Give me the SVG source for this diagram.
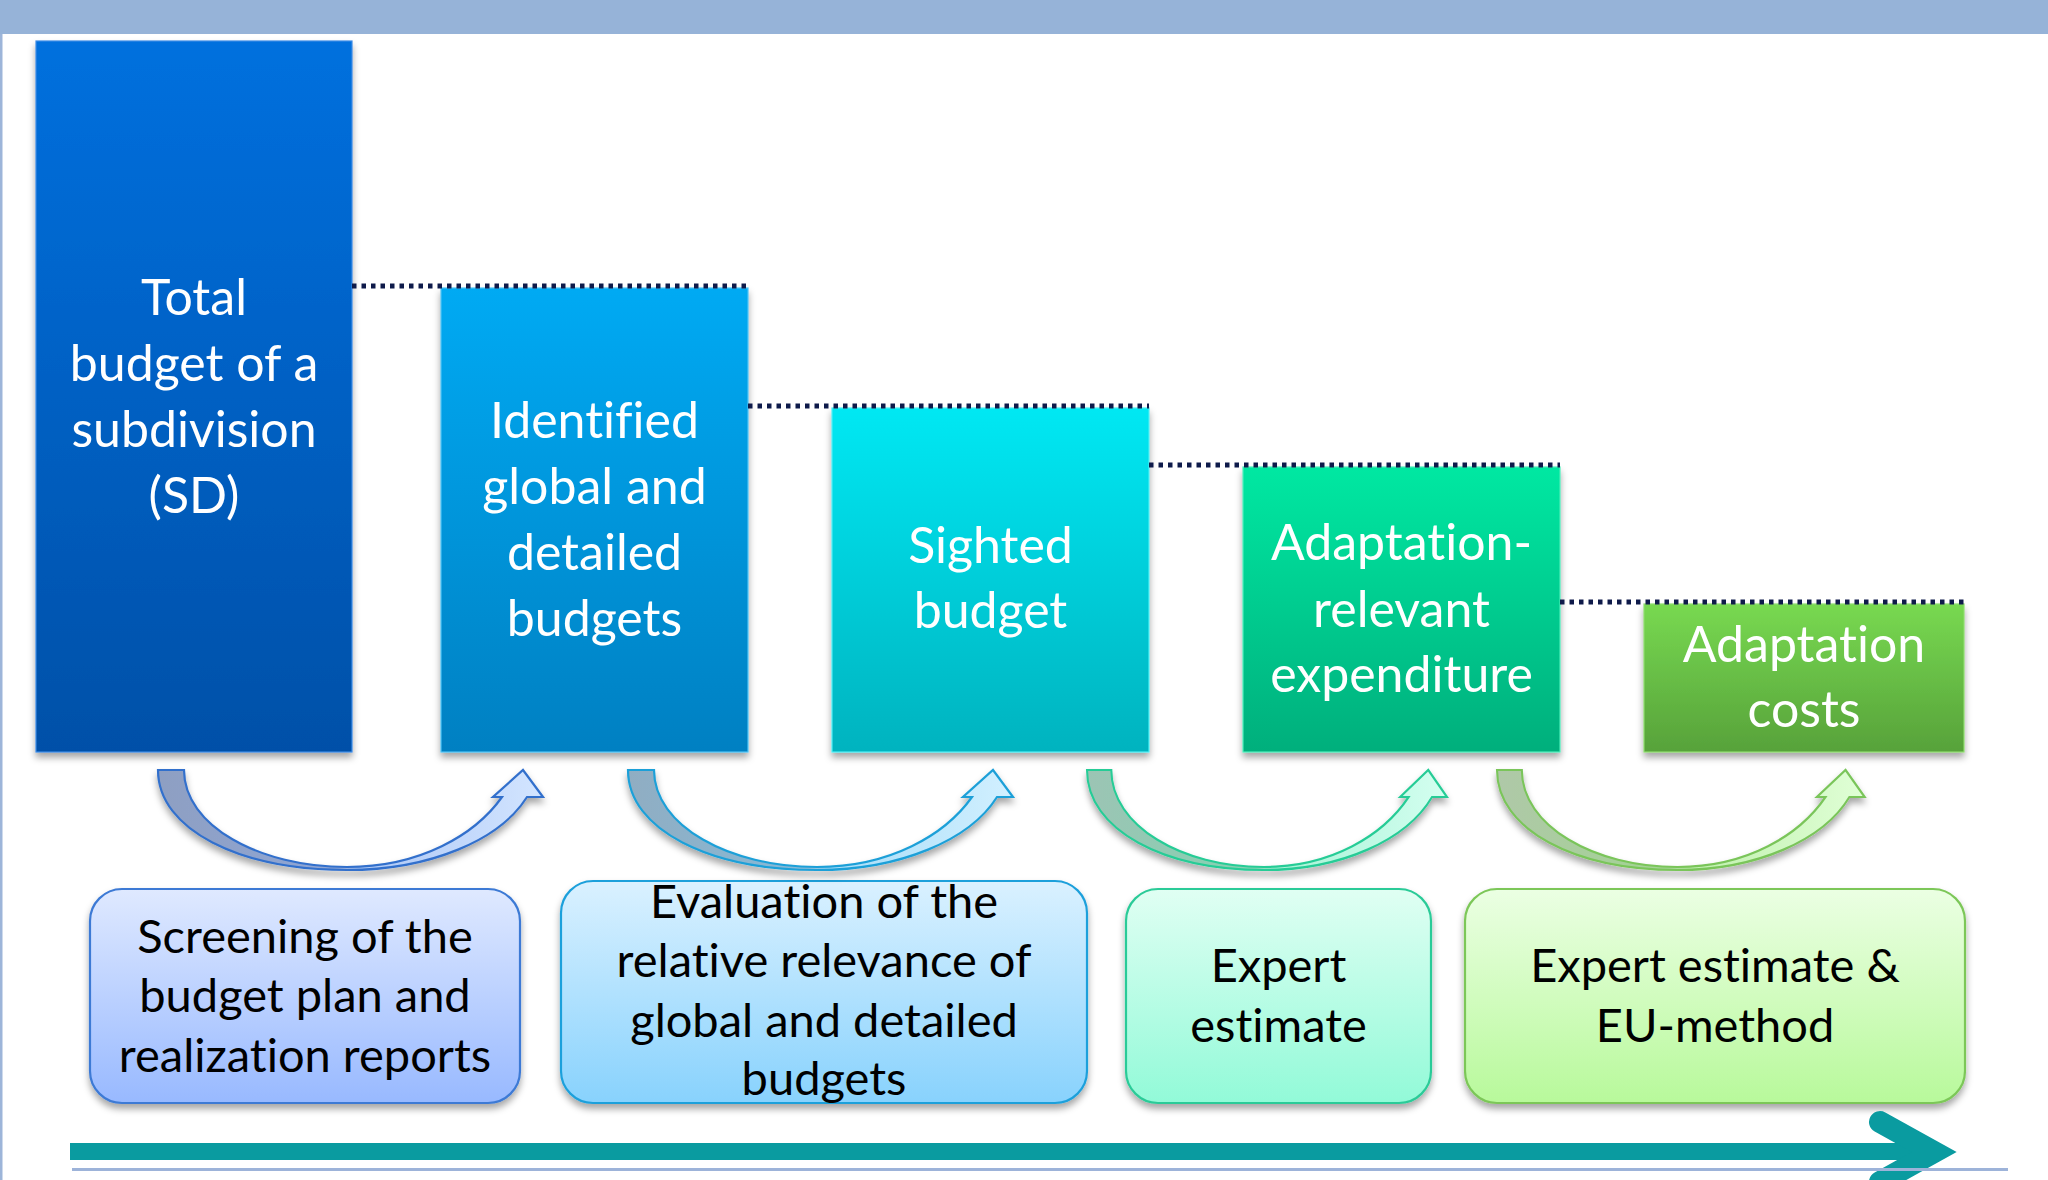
<svg xmlns="http://www.w3.org/2000/svg" width="2048" height="1180" viewBox="0 0 2048 1180">
<style>
.wt{font-family:Lato,"Liberation Sans",sans-serif;font-size:50px;fill:#ffffff;text-anchor:middle;font-variant-ligatures:none}
.bt{font-family:Lato,"Liberation Sans",sans-serif;font-size:47px;fill:#000000;text-anchor:middle;font-variant-ligatures:none}
.dots{stroke:#0E1A4A;stroke-width:5;stroke-dasharray:4.5 5;fill:none}
.arr{stroke-width:2.2;vector-effect:non-scaling-stroke}
</style>
<defs>
<filter id="sh" x="-10%" y="-10%" width="120%" height="130%">
<feDropShadow dx="0" dy="5" stdDeviation="3.5" flood-color="#000" flood-opacity="0.35"/>
</filter>
<linearGradient id="g1" x1="0" y1="0" x2="0" y2="1"><stop offset="0" stop-color="#0070DE"/><stop offset="1" stop-color="#0050A8"/></linearGradient>
<linearGradient id="g2" x1="0" y1="0" x2="0" y2="1"><stop offset="0" stop-color="#00AAF3"/><stop offset="1" stop-color="#0080C2"/></linearGradient>
<linearGradient id="g3" x1="0" y1="0" x2="0" y2="1"><stop offset="0" stop-color="#00E8F3"/><stop offset="1" stop-color="#00B3BF"/></linearGradient>
<linearGradient id="g4" x1="0" y1="0" x2="0" y2="1"><stop offset="0" stop-color="#00E8A2"/><stop offset="1" stop-color="#00AF7C"/></linearGradient>
<linearGradient id="g5" x1="0" y1="0" x2="0" y2="1"><stop offset="0" stop-color="#78D951"/><stop offset="1" stop-color="#57A23A"/></linearGradient>
<linearGradient id="b1" x1="0" y1="0" x2="0" y2="1"><stop offset="0" stop-color="#DFE9FF"/><stop offset="1" stop-color="#98B9FF"/></linearGradient>
<linearGradient id="b2" x1="0" y1="0" x2="0" y2="1"><stop offset="0" stop-color="#DAF1FF"/><stop offset="1" stop-color="#88D2FD"/></linearGradient>
<linearGradient id="b3" x1="0" y1="0" x2="0" y2="1"><stop offset="0" stop-color="#E0FFF3"/><stop offset="1" stop-color="#92FAD8"/></linearGradient>
<linearGradient id="b4" x1="0" y1="0" x2="0" y2="1"><stop offset="0" stop-color="#EBFFE3"/><stop offset="1" stop-color="#B8F99B"/></linearGradient>
<linearGradient id="a1" x1="0" y1="0" x2="1" y2="0"><stop offset="0" stop-color="#8E9FC2"/><stop offset="0.47" stop-color="#8FA6D6"/><stop offset="0.53" stop-color="#ADC8F6"/><stop offset="1" stop-color="#D3E5FF"/></linearGradient>
<linearGradient id="a2" x1="0" y1="0" x2="1" y2="0"><stop offset="0" stop-color="#90ADC2"/><stop offset="0.47" stop-color="#86BAD8"/><stop offset="0.53" stop-color="#A8DDF8"/><stop offset="1" stop-color="#D2F0FF"/></linearGradient>
<linearGradient id="a3" x1="0" y1="0" x2="1" y2="0"><stop offset="0" stop-color="#9CC4B4"/><stop offset="0.47" stop-color="#84D2B2"/><stop offset="0.53" stop-color="#A8F2D6"/><stop offset="1" stop-color="#D4FFF0"/></linearGradient>
<linearGradient id="a4" x1="0" y1="0" x2="1" y2="0"><stop offset="0" stop-color="#AFC8A8"/><stop offset="0.47" stop-color="#A2D492"/><stop offset="0.53" stop-color="#C0F0AE"/><stop offset="1" stop-color="#E0FFD6"/></linearGradient>
<path id="uarrow" d="M0,0 C0,60 82,100 189,100 C272,100 342,70 369,27 L385,27 L365,0 L335,27 L344,27 C317,65 262,97 189,97 C102,97 26,56 26,0 Z"/>
</defs>

<rect x="0" y="0" width="2048" height="1180" fill="#ffffff"/>
<rect x="0" y="0" width="2048" height="34" fill="#96B3D8"/>
<rect x="0" y="34" width="2.5" height="1146" fill="#9DB5D9"/>

<g id="node-total">
<rect x="36" y="41" width="316" height="711" fill="url(#g1)" stroke="#3B8BE6" stroke-width="1.2" filter="url(#sh)"/>
<text class="wt" x="194" y="315">Total</text>
<text class="wt" x="194" y="381">budget of a</text>
<text class="wt" x="194" y="447">subdivision</text>
<text class="wt" x="194" y="513">(SD)</text>
</g>
<g id="node-identified">
<rect x="441" y="288" width="307" height="464" fill="url(#g2)" stroke="#4CC3F5" stroke-width="1.2" filter="url(#sh)"/>
<text class="wt" x="594.5" y="438">Identified</text>
<text class="wt" x="594.5" y="504">global and</text>
<text class="wt" x="594.5" y="570">detailed</text>
<text class="wt" x="594.5" y="636">budgets</text>
</g>
<g id="node-sighted">
<rect x="832" y="408" width="317" height="344" fill="url(#g3)" stroke="#4DEEF5" stroke-width="1.2" filter="url(#sh)"/>
<text class="wt" x="990.5" y="563">Sighted</text>
<text class="wt" x="990.5" y="628">budget</text>
</g>
<g id="node-relevant">
<rect x="1243" y="467" width="317" height="285" fill="url(#g4)" stroke="#4DEEBB" stroke-width="1.2" filter="url(#sh)"/>
<text class="wt" x="1401.5" y="560">Adaptation-</text>
<text class="wt" x="1401.5" y="627">relevant</text>
<text class="wt" x="1401.5" y="692">expenditure</text>
</g>
<g id="node-costs">
<rect x="1644" y="604" width="320" height="148" fill="url(#g5)" stroke="#8EDD6E" stroke-width="1.2" filter="url(#sh)"/>
<text class="wt" x="1804" y="662">Adaptation</text>
<text class="wt" x="1804" y="727">costs</text>
</g>

<g id="node-screening">
<rect x="90" y="889" width="430" height="214" rx="32" fill="url(#b1)" stroke="#3D7AD5" stroke-width="2.2" filter="url(#sh)"/>
<text class="bt" x="305" y="953">Screening of the</text>
<text class="bt" x="305" y="1012">budget plan and</text>
<text class="bt" x="305" y="1072">realization reports</text>
</g>
<g id="node-evaluation">
<rect x="561" y="881" width="526" height="222" rx="32" fill="url(#b2)" stroke="#1FA0DB" stroke-width="2.2" filter="url(#sh)"/>
<text class="bt" x="824" y="918">Evaluation of the</text>
<text class="bt" x="824" y="977">relative relevance of</text>
<text class="bt" x="824" y="1037">global and detailed</text>
<text class="bt" x="824" y="1095">budgets</text>
</g>
<g id="node-expert">
<rect x="1126" y="889" width="305" height="214" rx="32" fill="url(#b3)" stroke="#2CCB98" stroke-width="2.2" filter="url(#sh)"/>
<text class="bt" x="1278.5" y="982">Expert</text>
<text class="bt" x="1278.5" y="1042">estimate</text>
</g>
<g id="node-eu">
<rect x="1465" y="889" width="500" height="214" rx="32" fill="url(#b4)" stroke="#7CC758" stroke-width="2.2" filter="url(#sh)"/>
<text class="bt" x="1715" y="982">Expert estimate &amp;</text>
<text class="bt" x="1715" y="1042">EU-method</text>
</g>

<g id="connectors">
<line class="dots" x1="352" y1="286" x2="748" y2="286"/>
<line class="dots" x1="748" y1="406" x2="1149" y2="406"/>
<line class="dots" x1="1149" y1="465" x2="1560" y2="465"/>
<line class="dots" x1="1560" y1="602" x2="1964" y2="602"/>
<use href="#uarrow" class="arr" transform="translate(158,770)" fill="url(#a1)" stroke="#3370CC" filter="url(#sh)"/>
<use href="#uarrow" class="arr" transform="translate(628,770)" fill="url(#a2)" stroke="#1FA0D8" filter="url(#sh)"/>
<use href="#uarrow" class="arr" transform="translate(1087,770) scale(0.935,1)" fill="url(#a3)" stroke="#27CC96" filter="url(#sh)"/>
<use href="#uarrow" class="arr" transform="translate(1497,770) scale(0.955,1)" fill="url(#a4)" stroke="#7AC55A" filter="url(#sh)"/>
</g>

<g id="timeline">
<rect x="70" y="1143" width="1870" height="17" fill="#0A9BA0"/>
<polyline points="1880,1122 1934,1152 1880,1182" fill="none" stroke="#0A9BA0" stroke-width="22" stroke-linecap="round" stroke-linejoin="miter"/>
<rect x="72" y="1168" width="1936" height="3" fill="#9DB3D9"/>
</g>
</svg>
